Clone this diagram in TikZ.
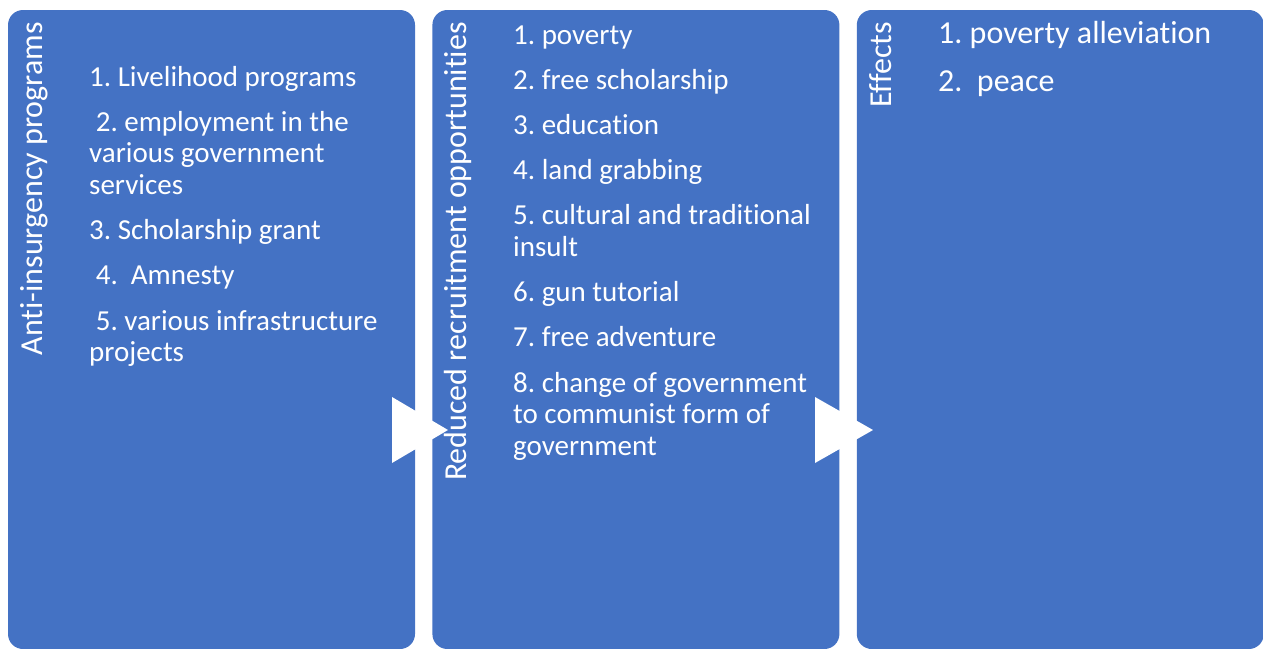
\documentclass[tikz,border=0pt]{standalone}
\usepackage{fontspec}
\setmainfont{Carlito}[Ligatures=NoCommon]
\usepackage{xcolor}
\usepackage{tikz}
\usetikzlibrary{positioning}
\definecolor{stageblue}{HTML}{4472C4}
\frenchspacing

\tikzset{
  stage/.style={fill=stageblue, rounded corners=15pt, minimum width=407pt, minimum height=639pt, inner sep=0pt},
  stagetitle/.style={rotate=90, anchor=base east, inner sep=0pt, text=white, font=\fontsize{32}{38}\selectfont},
  stageitems/.style={anchor=base west, inner sep=0pt, text=white, align=left, font=\fontsize{29}{31.6}\selectfont},
}

\begin{document}
\begin{tikzpicture}[x=1pt,y=-1pt]
      \useasboundingbox (0,0) rectangle (1263,648);
      \node[stage] (s1) at (211.5,329.5) {};
      \node[stage,right=17pt of s1] (s2) {};
      \node[stage,right=17pt of s2] (s3) {};
      % arrows between the stages
      \fill[white] (392,397) -- (448,430) -- (392,463) -- cycle;
      \fill[white] (815,397) -- (873,430) -- (815,463) -- cycle;
      \node[stagetitle] (t1) at (42,22) {Anti-insurgency programs};
      \node[stagetitle] (t2) at (466,22) {Reduced recruitment opportunities};
      \node[stagetitle] (t3) at (891,22) {Effects};
      % item lists, placed by the baseline of their last line
      \node[stageitems] (i1) at (89,361.6) {1. Livelihood programs\\[13.6pt]
        \hspace*{6.6pt}2. employment in the\\ various government\\ services\\[13.6pt]
        3. Scholarship grant\\[13.6pt]
        \hspace*{6.6pt}4.\ \ Amnesty\\[13.6pt]
        \hspace*{6.6pt}5. various infrastructure\\ projects};
      \node[stageitems] (i2) at (513,455.2) {1. poverty\\[13.6pt]
        2. free scholarship\\[13.6pt]
        3. education\\[13.6pt]
        4. land grabbing\\[13.6pt]
        5. cultural and traditional\\ insult\\[13.6pt]
        6. gun tutorial\\[13.6pt]
        7. free adventure\\[13.6pt]
        8. change of government\\ to communist form of\\ government};
      \node[stageitems,font=\fontsize{32}{34.8}\selectfont] (i3) at (938,91.4) {1. poverty alleviation\\[13.6pt]
        2.\ \ peace};
    \end{tikzpicture}
\end{document}
